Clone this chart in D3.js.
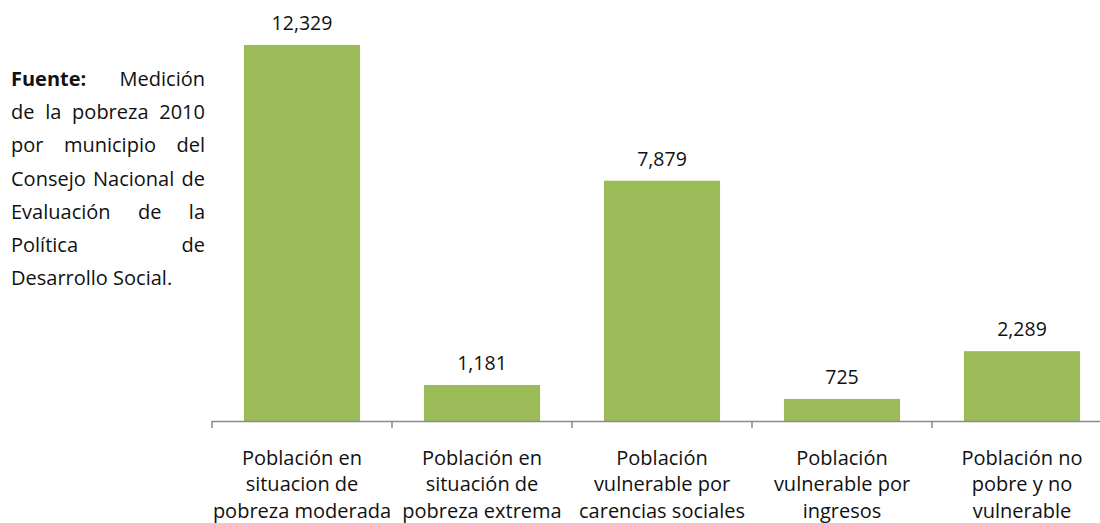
<!DOCTYPE html>
<html><head><meta charset="utf-8">
<script src="https://cdn.jsdelivr.net/npm/d3@7"></script>
<style>body{margin:0;background:#fff;} svg{display:block;font-family:"Open Sans",sans-serif;}</style>
</head><body>
<svg id="c" width="1100" height="523"></svg>
<script>
const categories = [
  ["Población en","situacion de","pobreza moderada"],
  ["Población en","situación de","pobreza extrema"],
  ["Población","vulnerable por","carencias sociales"],
  ["Población","vulnerable por","ingresos"],
  ["Población no","pobre y no","vulnerable"]
];
const values = [12329, 1181, 7879, 725, 2289];
const sourceLines = [
  ["Fuente:", "Medición"],
  ["de","la","pobreza","2010"],
  ["por","municipio","del"],
  ["Consejo","Nacional","de"],
  ["Evaluación","de","la"],
  ["Política","de"],
  ["Desarrollo","Social."]
];

const svg = d3.select("#c");
const keys = categories.map((c,i)=>i);
const x = d3.scaleBand().domain(keys).range([212, 1112]).paddingInner(0.355).paddingOuter(0.1775);
const y = d3.scaleLinear().domain([0, 14000]).range([421, -6]);
const fmt = d3.format(",");
const ink = "#111";

svg.selectAll("rect.bar").data(values).join("rect")
  .attr("class","bar")
  .attr("x",(d,i)=>x(i)).attr("width",x.bandwidth())
  .attr("y",d=>y(d)).attr("height",d=>y(0)-y(d))
  .attr("fill","#9BBB59");

svg.selectAll("text.val").data(values).join("text")
  .attr("class","val")
  .attr("x",(d,i)=>x(i)+x.bandwidth()/2).attr("y",d=>y(d)-15)
  .attr("text-anchor","middle").attr("font-size",19.5).attr("fill",ink)
  .text(d=>fmt(d));

// axis
const step = x.step();
const axisG = svg.append("g");
axisG.append("line").attr("x1",212).attr("x2",1100).attr("y1",421.5).attr("y2",421.5)
  .attr("stroke","#8a8a8a").attr("stroke-width",1.5);
keys.forEach(i=>{
  const bx = x(i) - x.paddingOuter()*step;
  axisG.append("line").attr("x1",bx).attr("x2",bx).attr("y1",421).attr("y2",428)
    .attr("stroke","#8a8a8a").attr("stroke-width",1.5);
});

const catG = svg.selectAll("text.cat").data(categories).join("text")
  .attr("class","cat").attr("text-anchor","middle").attr("font-size",20).attr("fill",ink);
catG.each(function(lines,i){
  const t = d3.select(this);
  lines.forEach((l,j)=>{
    t.append("tspan").attr("x",x(i)+x.bandwidth()/2).attr("y",464.5+j*26.8).text(l);
  });
});

// justified source text
const left = 11, right = 205;
sourceLines.forEach((words,li)=>{
  const yy = 86 + li*33.2;
  const last = li === sourceLines.length-1;
  const nodes = words.map((w,wi)=>{
    const t = svg.append("text").attr("y",yy).attr("font-size",20).attr("fill",ink).text(w);
    if(li===0 && wi===0) t.attr("font-weight","bold");
    return t;
  });
  const widths = nodes.map(n=>n.node().getComputedTextLength());
  const total = d3.sum(widths);
  const gap = last ? 5.2 : (right-left-total)/(words.length-1);
  let cx = left;
  nodes.forEach((n,k)=>{ n.attr("x",cx); cx += widths[k] + gap; });
});
</script>
</body></html>
